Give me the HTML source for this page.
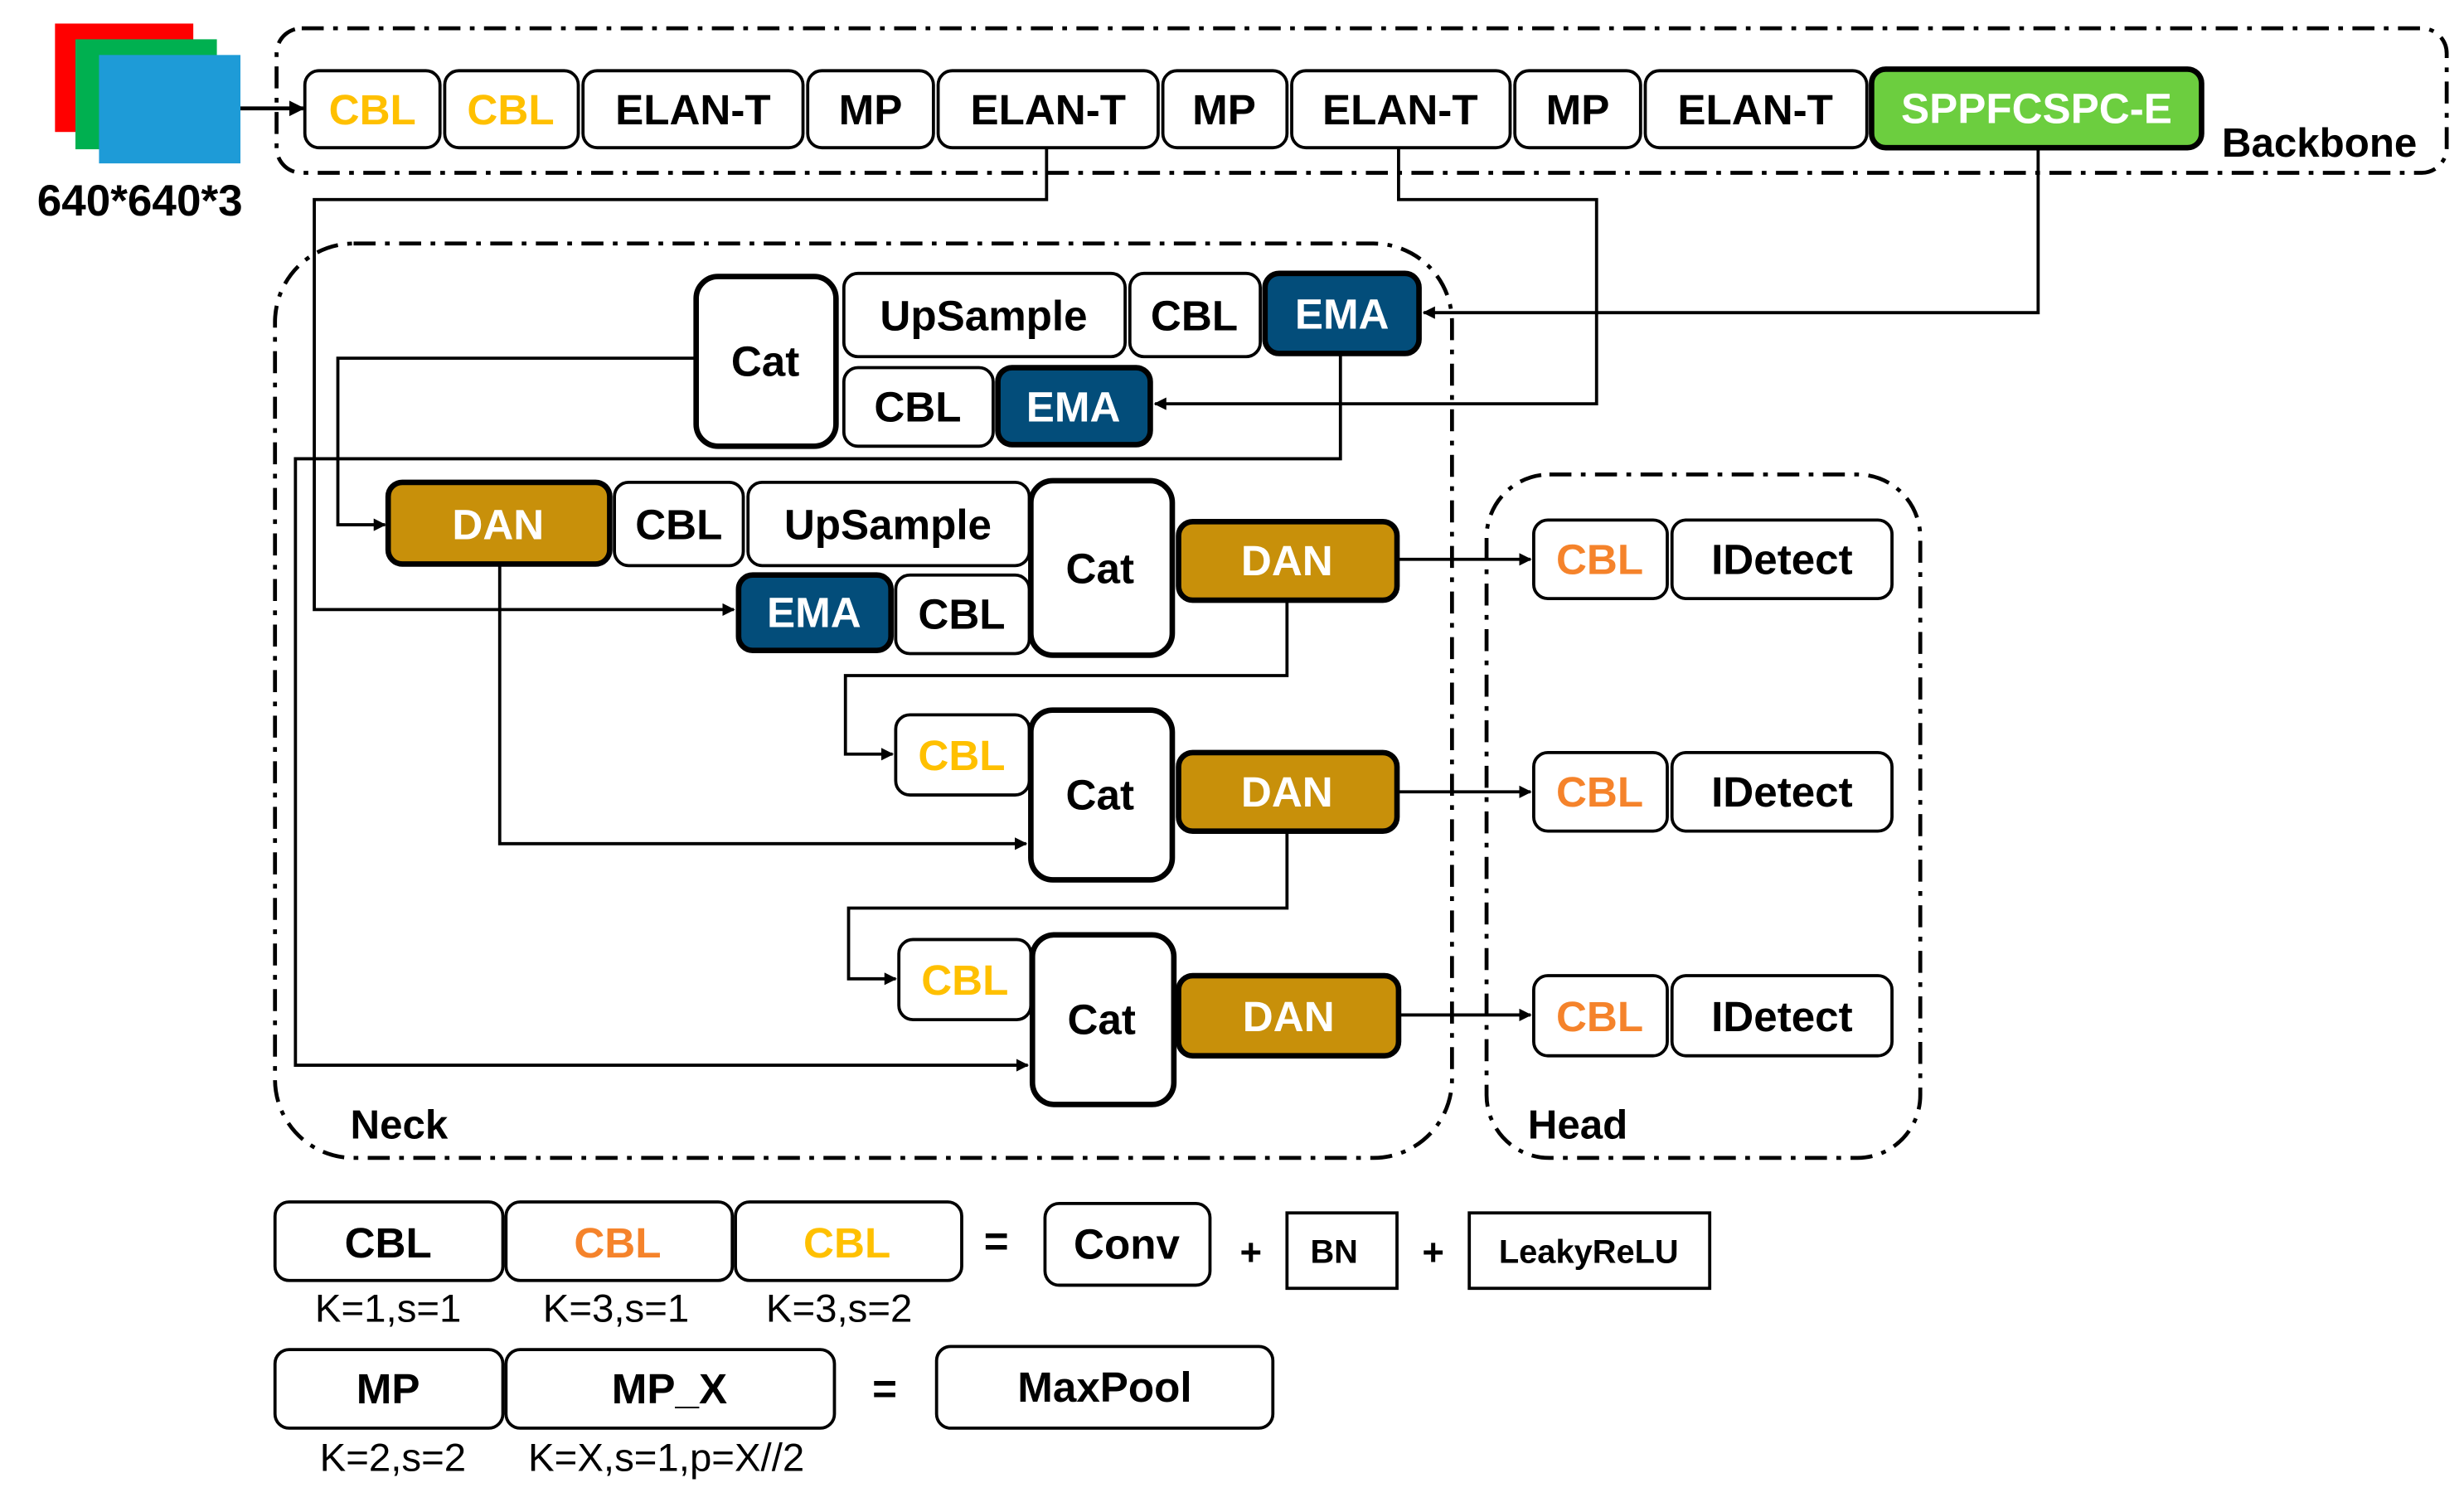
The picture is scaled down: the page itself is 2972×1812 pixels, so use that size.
<!DOCTYPE html>
<html><head><meta charset="utf-8"><style>
html,body{margin:0;padding:0;background:#fff;}
svg{display:block;}
text{font-family:"Liberation Sans","DejaVu Sans",sans-serif;font-weight:bold;text-anchor:middle;dominant-baseline:central;}
</style></head><body>
<svg width="2972" height="1812" viewBox="0 0 1568 956" xmlns="http://www.w3.org/2000/svg">
<defs>
<marker id="a" viewBox="0 0 10 10" refX="9" refY="5" markerWidth="4" markerHeight="4" orient="auto"><path d="M0,0 L10,5 L0,10 Z" fill="#000"/></marker>
</defs>
<rect width="1568" height="956" fill="#fff"/>
<rect x="35" y="15" width="88" height="69" fill="#ff0000"/>
<rect x="48" y="25" width="90" height="70" fill="#00b050"/>
<rect x="63" y="35" width="90" height="69" fill="#1e9bd7"/>
<text x="89" y="128" font-size="28">640*640*3</text>
<line x1="153" y1="69" x2="193" y2="69" stroke="#000" stroke-width="2.5" marker-end="url(#a)"/>

<g fill="none" stroke="#000" stroke-width="2.5" stroke-dasharray="14 6 3 6">
<rect x="176" y="18" width="1381" height="92" rx="16"/>
<rect x="175" y="155" width="749" height="582" rx="50"/>
<rect x="946" y="302" width="276" height="435" rx="40"/>
</g>
<text x="1476" y="91" font-size="26">Backbone</text>
<text x="254" y="716" font-size="26">Neck</text>
<text x="1004" y="716" font-size="26">Head</text>

<g fill="none" stroke="#000" stroke-width="2">
<polyline points="666,94 666,127 200,127 200,388 467,388" marker-end="url(#a)"/>
<polyline points="890,94 890,127 1016,127 1016,257 735,257" marker-end="url(#a)"/>
<polyline points="1297,94 1297,199 906,199" marker-end="url(#a)"/>
<polyline points="443,228 215,228 215,334 245,334" marker-end="url(#a)"/>
<polyline points="853,225 853,292 188,292 188,678 654,678" marker-end="url(#a)"/>
<polyline points="318,359 318,537 653,537" marker-end="url(#a)"/>
<polyline points="819,382 819,430 538,430 538,480 568,480" marker-end="url(#a)"/>
<polyline points="819,529 819,578 540,578 540,623 570,623" marker-end="url(#a)"/>
<line x1="889" y1="356" x2="974" y2="356" marker-end="url(#a)"/>
<line x1="889" y1="504" x2="974" y2="504" marker-end="url(#a)"/>
<line x1="890" y1="646" x2="974" y2="646" marker-end="url(#a)"/>
</g>

<g fill="#fff" stroke="#000" stroke-width="2">
<rect x="194" y="45" width="86" height="49" rx="9"/>
<rect x="283" y="45" width="85" height="49" rx="9"/>
<rect x="371" y="45" width="140" height="49" rx="9"/>
<rect x="514" y="45" width="80" height="49" rx="9"/>
<rect x="597" y="45" width="140" height="49" rx="9"/>
<rect x="740" y="45" width="79" height="49" rx="9"/>
<rect x="822" y="45" width="139" height="49" rx="9"/>
<rect x="964" y="45" width="80" height="49" rx="9"/>
<rect x="1047" y="45" width="141" height="49" rx="9"/>
<rect x="537" y="174" width="179" height="53" rx="9"/>
<rect x="719" y="174" width="83" height="53" rx="9"/>
<rect x="537" y="234" width="95" height="50" rx="9"/>
<rect x="391" y="307" width="82" height="53" rx="9"/>
<rect x="476" y="307" width="179" height="53" rx="9"/>
<rect x="570" y="366" width="85" height="50" rx="9"/>
<rect x="570" y="455" width="85" height="51" rx="9"/>
<rect x="572" y="598" width="84" height="51" rx="9"/>
<rect x="976" y="331" width="85" height="50" rx="9"/>
<rect x="1064" y="331" width="140" height="50" rx="9"/>
<rect x="976" y="479" width="85" height="50" rx="9"/>
<rect x="1064" y="479" width="140" height="50" rx="9"/>
<rect x="976" y="621" width="85" height="51" rx="9"/>
<rect x="1064" y="621" width="140" height="51" rx="9"/>
<rect x="175" y="765" width="145" height="50" rx="9"/>
<rect x="322" y="765" width="144" height="50" rx="9"/>
<rect x="468" y="765" width="144" height="50" rx="9"/>
<rect x="665" y="766" width="105" height="52" rx="9"/>
<rect x="819" y="772" width="70" height="48"/>
<rect x="935" y="772" width="153" height="48"/>
<rect x="175" y="859" width="145" height="50" rx="9"/>
<rect x="322" y="859" width="209" height="50" rx="9"/>
<rect x="596" y="857" width="214" height="52" rx="9"/>
</g>
<g stroke="#000" stroke-width="3.5">
<rect x="1191" y="44" width="210" height="50" rx="9" fill="#6cce3f"/>
<rect x="443" y="176" width="89" height="108" rx="14" fill="#fff"/>
<rect x="656" y="306" width="90" height="111" rx="14" fill="#fff"/>
<rect x="656" y="452" width="90" height="108" rx="14" fill="#fff"/>
<rect x="657" y="595" width="90" height="108" rx="14" fill="#fff"/>
<rect x="805" y="174" width="98" height="51" rx="9" fill="#034d7a"/>
<rect x="635" y="234" width="97" height="49" rx="9" fill="#034d7a"/>
<rect x="470" y="366" width="97" height="48" rx="9" fill="#034d7a"/>
<rect x="247" y="307" width="141" height="52" rx="9" fill="#c8900a"/>
<rect x="750" y="332" width="139" height="50" rx="9" fill="#c8900a"/>
<rect x="750" y="479" width="139" height="50" rx="9" fill="#c8900a"/>
<rect x="750" y="621" width="140" height="51" rx="9" fill="#c8900a"/>
</g>

<g font-size="27">
<text x="237" y="70" fill="#ffc000">CBL</text>
<text x="325" y="70" fill="#ffc000">CBL</text>
<text x="441" y="70">ELAN-T</text>
<text x="554" y="70">MP</text>
<text x="667" y="70">ELAN-T</text>
<text x="779" y="70">MP</text>
<text x="891" y="70">ELAN-T</text>
<text x="1004" y="70">MP</text>
<text x="1117" y="70">ELAN-T</text>
<text x="1296" y="69" fill="#fff">SPPFCSPC-E</text>
<text x="487" y="230">Cat</text>
<text x="626" y="201">UpSample</text>
<text x="760" y="201">CBL</text>
<text x="854" y="200" fill="#fff">EMA</text>
<text x="584" y="259">CBL</text>
<text x="683" y="259" fill="#fff">EMA</text>
<text x="317" y="334" fill="#fff">DAN</text>
<text x="432" y="334">CBL</text>
<text x="565" y="334">UpSample</text>
<text x="700" y="362">Cat</text>
<text x="518" y="390" fill="#fff">EMA</text>
<text x="612" y="391">CBL</text>
<text x="819" y="357" fill="#fff">DAN</text>
<text x="612" y="481" fill="#ffc000">CBL</text>
<text x="700" y="506">Cat</text>
<text x="819" y="504" fill="#fff">DAN</text>
<text x="614" y="624" fill="#ffc000">CBL</text>
<text x="701" y="649">Cat</text>
<text x="820" y="647" fill="#fff">DAN</text>
<text x="1018" y="356" fill="#f5832b">CBL</text>
<text x="1134" y="356">IDetect</text>
<text x="1018" y="504" fill="#f5832b">CBL</text>
<text x="1134" y="504">IDetect</text>
<text x="1018" y="647" fill="#f5832b">CBL</text>
<text x="1134" y="647">IDetect</text>
<text x="247" y="791">CBL</text>
<text x="393" y="791" fill="#f5832b">CBL</text>
<text x="539" y="791" fill="#ffc000">CBL</text>
<text x="634" y="790">=</text>
<text x="717" y="792">Conv</text>
<text x="796" y="797" font-size="24">+</text>
<text x="912" y="797" font-size="24">+</text>
<text x="247" y="884">MP</text>
<text x="426" y="884">MP_X</text>
<text x="563" y="884">=</text>
<text x="703" y="883">MaxPool</text>
</g>
<text x="849" y="797" font-size="21">BN</text>
<text x="1011" y="797" font-size="21">LeakyReLU</text>
<g font-size="25">
<text x="247" y="833" style="font-weight:normal">K=1,s=1</text>
<text x="392" y="833" style="font-weight:normal">K=3,s=1</text>
<text x="534" y="833" style="font-weight:normal">K=3,s=2</text>
<text x="250" y="928" style="font-weight:normal">K=2,s=2</text>
<text x="424" y="928" style="font-weight:normal">K=X,s=1,p=X//2</text>
</g>
</svg>
</body></html>
